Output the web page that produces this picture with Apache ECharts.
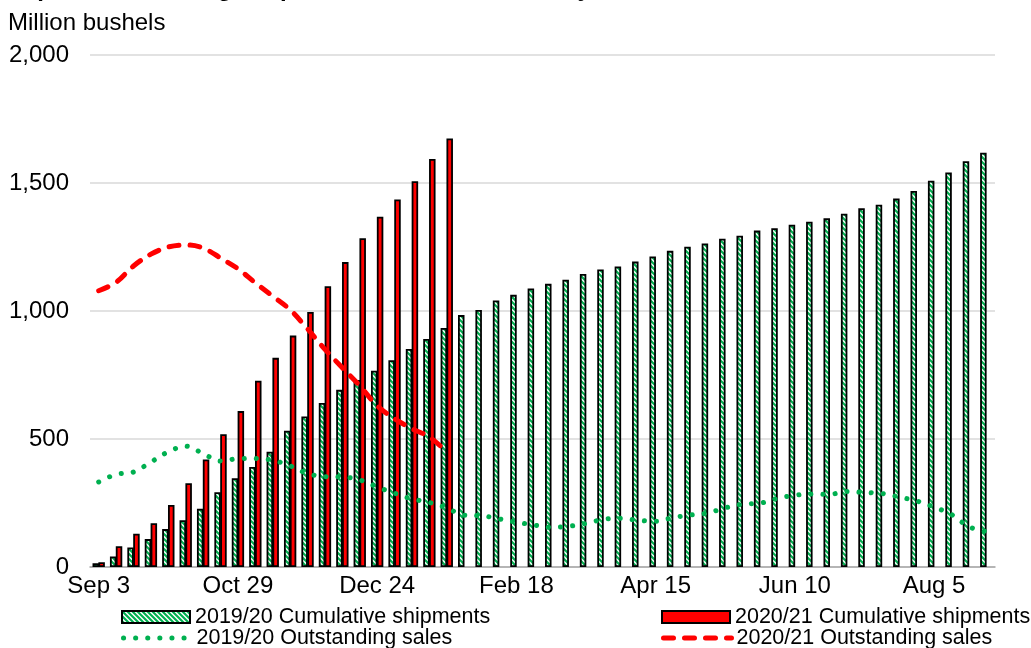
<!DOCTYPE html>
<html>
<head>
<meta charset="utf-8">
<title>Corn export sales</title>
<script src="https://cdn.jsdelivr.net/npm/echarts@6/dist/echarts.min.js"></script>
<style>
    html, body { margin: 0; padding: 0; background: #fff; }
    #chart { width: 1031px; height: 648px; }
</style>
</head>
<body>
<div id="chart"></div>
<script>
var weeks = ['Sep 3', 'Sep 10', 'Sep 17', 'Sep 24', 'Oct 1', 'Oct 8', 'Oct 15', 'Oct 22', 'Oct 29',
    'Nov 5', 'Nov 12', 'Nov 19', 'Nov 26', 'Dec 3', 'Dec 10', 'Dec 17', 'Dec 24', 'Dec 31',
    'Jan 7', 'Jan 14', 'Jan 21', 'Jan 28', 'Feb 4', 'Feb 11', 'Feb 18', 'Feb 25',
    'Mar 4', 'Mar 11', 'Mar 18', 'Mar 25', 'Apr 1', 'Apr 8', 'Apr 15', 'Apr 22', 'Apr 29',
    'May 6', 'May 13', 'May 20', 'May 27', 'Jun 3', 'Jun 10', 'Jun 17', 'Jun 24',
    'Jul 1', 'Jul 8', 'Jul 15', 'Jul 22', 'Jul 29', 'Aug 5', 'Aug 12', 'Aug 19', 'Aug 26'];

// million bushels
var shipments1920 = [15, 41, 76, 109, 148, 183, 228, 292, 347, 391, 450, 532, 588, 641, 692, 730,
    767, 808, 852, 891, 934, 984, 1004, 1041, 1063, 1088, 1106, 1122, 1145, 1162, 1174, 1193,
    1213, 1235, 1251, 1264, 1282, 1294, 1314, 1323, 1337, 1349, 1362, 1380, 1401, 1415, 1439,
    1469, 1509, 1541, 1585, 1618];
var shipments2021 = [19, 81, 130, 171, 242, 327, 420, 519, 609, 728, 817, 904, 996, 1097, 1191,
    1284, 1368, 1436, 1507, 1594, 1674];
var outstanding1920 = [332, 362, 371, 410, 450, 472, 443, 414, 423, 424, 417, 395, 365, 353, 352,
    340, 313, 288, 266, 252, 231, 202, 200, 188, 175, 164, 155, 159, 170, 186, 190, 182, 179,
    193, 203, 211, 231, 245, 249, 268, 280, 285, 284, 295, 291, 287, 273, 258, 234, 205, 157, 138];
var outstanding2021 = [1079, 1112, 1176, 1222, 1250, 1258, 1246, 1207, 1165, 1110, 1058, 1005,
    930, 850, 778, 708, 630, 579, 540, 508, 449];

var yTicks = [0, 500, 1000, 1500, 2000];

var FONT = '"Liberation Sans", Arial, sans-serif';
var GREEN = '#00b050';
var RED = '#ff0000';
var DOTS = [0.1, 12];
var DASHES = [10, 11];

// white fill with green diagonal hatching, like the Excel pattern fill
function makeHatch() {
    var c = document.createElement('canvas');
    c.width = 5;
    c.height = 5;
    var ctx = c.getContext('2d');
    ctx.fillStyle = '#fff';
    ctx.fillRect(0, 0, 5, 5);
    ctx.strokeStyle = GREEN;
    ctx.lineWidth = 2.2;
    ctx.beginPath();
    for (var k = -1; k <= 1; k++) {
        ctx.moveTo(-1, 5 * k - 1);
        ctx.lineTo(6, 5 * k + 6);
    }
    ctx.stroke();
    return c;
}

var chart = echarts.init(document.getElementById('chart'), null, { renderer: 'canvas' });

function legendAt(item, left, top) {
    return {
        data: [item],
        left: left,
        top: top,
        padding: 0,
        itemWidth: 68,
        itemHeight: 12,
        selectedMode: false,
        textStyle: { fontFamily: FONT, fontSize: 21.5, color: '#000' }
    };
}

var option = {
    animation: false,
    backgroundColor: '#fff',
    graphic: [
        {
            // the title sits mostly above the top edge, only its lower part shows
            type: 'text', x: 8, y: -10.5,
            style: {
                text: 'Export sales strong, shipments well ahead of last year',
                font: 'bold 24px ' + FONT, fill: '#000',
                verticalAlign: 'middle', lineHeight: 40
            }
        },
        {
            type: 'text', x: 8, y: 23,
            style: {
                text: 'Million bushels',
                font: '24px ' + FONT, fill: '#000', verticalAlign: 'middle'
            }
        }
    ],
    legend: [
        legendAt({ name: '2019/20 Cumulative shipments', icon: 'rect',
            itemStyle: { borderColor: '#000', borderWidth: 2 } }, 121, 606),
        legendAt({ name: '2020/21 Cumulative shipments', icon: 'rect',
            itemStyle: { borderColor: '#000', borderWidth: 2 } }, 661, 606),
        legendAt({ name: '2019/20 Outstanding sales', itemStyle: { opacity: 0 },
            lineStyle: { width: 5, type: DOTS, cap: 'round', color: GREEN } }, 121, 627),
        legendAt({ name: '2020/21 Outstanding sales', itemStyle: { opacity: 0 },
            lineStyle: { width: 5, type: DASHES, cap: 'round', color: RED } }, 661, 627)
    ],
    grid: { left: 90, right: 36, top: 55, bottom: 81 },
    xAxis: {
        type: 'category',
        data: weeks,
        boundaryGap: true,
        axisLine: { lineStyle: { color: '#a6a6a6', width: 1.5 } },
        axisTick: { interval: 0, length: 6, lineStyle: { color: '#a6a6a6', width: 1.5 } },
        axisLabel: { interval: 7, margin: 7, color: '#000', fontFamily: FONT, fontSize: 24 },
        splitLine: { show: false }
    },
    yAxis: {
        type: 'value',
        min: yTicks[0],
        max: yTicks[yTicks.length - 1],
        interval: 500,
        axisLine: { show: false },
        axisTick: { show: false },
        axisLabel: {
            margin: 21, color: '#000', fontFamily: FONT, fontSize: 24,
            formatter: function (v) { return echarts.format.addCommas(v); }
        },
        splitLine: { lineStyle: { color: '#d9d9d9', width: 1.5 } }
    },
    series: [
        {
            name: '2019/20 Cumulative shipments',
            type: 'bar',
            data: shipments1920,
            barWidth: 6.5,
            barGap: '-10%',
            itemStyle: {
                color: { image: makeHatch(), repeat: 'repeat' },
                borderColor: '#000',
                borderWidth: 1.8
            }
        },
        {
            name: '2020/21 Cumulative shipments',
            type: 'bar',
            data: shipments2021,
            barWidth: 6.5,
            itemStyle: { color: RED, borderColor: '#000', borderWidth: 1.8 }
        },
        {
            name: '2019/20 Outstanding sales',
            type: 'line',
            data: outstanding1920,
            smooth: 0.35,
            symbol: 'none',
            z: 4,
            itemStyle: { color: GREEN },
            lineStyle: { color: GREEN, width: 5, type: DOTS, cap: 'round' }
        },
        {
            name: '2020/21 Outstanding sales',
            type: 'line',
            data: outstanding2021,
            smooth: 0.35,
            symbol: 'none',
            z: 4,
            itemStyle: { color: RED },
            lineStyle: { color: RED, width: 5, type: DASHES, cap: 'round' }
        }
    ]
};

chart.setOption(option);
</script>
</body>
</html>
